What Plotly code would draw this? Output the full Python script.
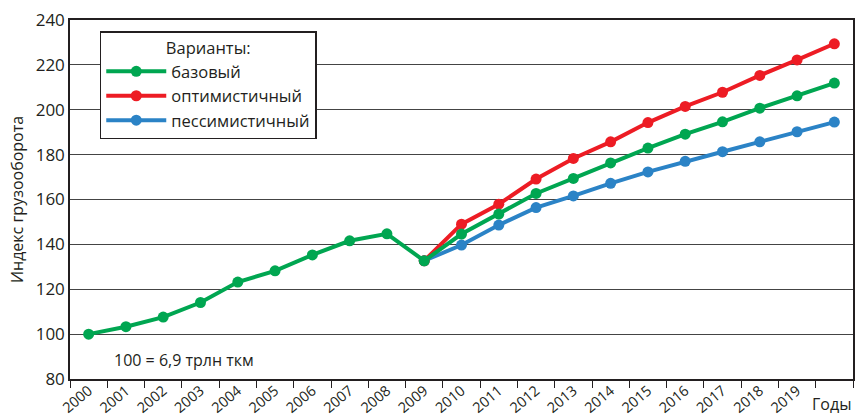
import plotly.graph_objects as go

years = [str(y) for y in range(2000, 2021)]
tick_labels = [str(y) for y in range(2000, 2020)] + [""]

base = [100.0, 103.3, 107.6, 114.1, 123.2, 128.2, 135.3, 141.6, 144.7, 132.7,
        144.6, 153.5, 162.7, 169.4, 176.3, 182.9, 189.1, 194.6, 200.7, 206.2, 211.9]
opt_years = [str(y) for y in range(2009, 2021)]
optimistic = [132.7, 149.0, 157.9, 169.1, 178.3, 185.7, 194.3, 201.5, 207.8, 215.3, 222.2, 229.4]
pessimistic = [132.7, 139.7, 148.6, 156.4, 161.6, 167.2, 172.3, 177.0, 181.3, 185.7, 190.2, 194.5]

GREEN = "#00A651"
RED = "#ED1C24"
BLUE = "#2B83C6"
FONT = "Open Sans"

fig = go.Figure()
fig.add_trace(go.Scatter(x=opt_years, y=pessimistic, name="пессимистичный",
                         mode="lines+markers", legendrank=3,
                         line=dict(color=BLUE, width=4), marker=dict(color=BLUE, size=11)))
fig.add_trace(go.Scatter(x=opt_years, y=optimistic, name="оптимистичный",
                         mode="lines+markers", legendrank=2,
                         line=dict(color=RED, width=4), marker=dict(color=RED, size=11)))
fig.add_trace(go.Scatter(x=years, y=base, name="базовый",
                         mode="lines+markers", legendrank=1,
                         line=dict(color=GREEN, width=4), marker=dict(color=GREEN, size=11)))

fig.update_layout(
    width=855, height=417,
    margin=dict(l=70, r=2, t=20, b=38, autoexpand=False),
    paper_bgcolor="white", plot_bgcolor="white",
    font=dict(family=FONT, size=15, color="#231F20"),
    showlegend=True,
    legend=dict(
        x=0.038, y=0.969, xanchor="left", yanchor="top",
        bgcolor="white", bordercolor="#231F20", borderwidth=1.5,
        title=dict(text="Варианты:", side="top center", font=dict(size=16.5)),
        font=dict(size=16.5),
        traceorder="normal",
        itemwidth=60,
    ),
    xaxis=dict(
        type="category", categoryorder="array", categoryarray=years,
        tickvals=years, ticktext=tick_labels, tickangle=-40,
        tickson="boundaries", ticks="outside", ticklen=7, tickcolor="#231F20",
        ticklabelstandoff=-4,
        showgrid=False, showline=True, linecolor="#231F20", linewidth=1.5, mirror=True,
        tickfont=dict(size=14.5), range=[-0.5, 20.5], automargin=False,
    ),
    yaxis=dict(
        range=[80, 240], dtick=20, tick0=80,
        showgrid=True, gridcolor="#444444", gridwidth=1,
        showline=True, linecolor="#231F20", linewidth=1.5, mirror=True,
        ticks="", tickfont=dict(size=17), automargin=False,
        title=dict(text="Индекс грузооборота", font=dict(size=16), standoff=8),
        zeroline=False,
    ),
)

fig.add_annotation(text="100 = 6,9 трлн ткм", xref="paper", yref="y",
                   x=0.054, y=88.4, xanchor="left", yanchor="middle",
                   showarrow=False, font=dict(size=16))
fig.add_annotation(text="Годы", xref="paper", yref="paper",
                   x=1.0, y=-0.07, xanchor="right", yanchor="middle",
                   showarrow=False, font=dict(size=16))

fig.write_html("out.html", config={"displayModeBar": False},
               post_script="document.body.style.margin='0';document.body.style.overflow='hidden';")
